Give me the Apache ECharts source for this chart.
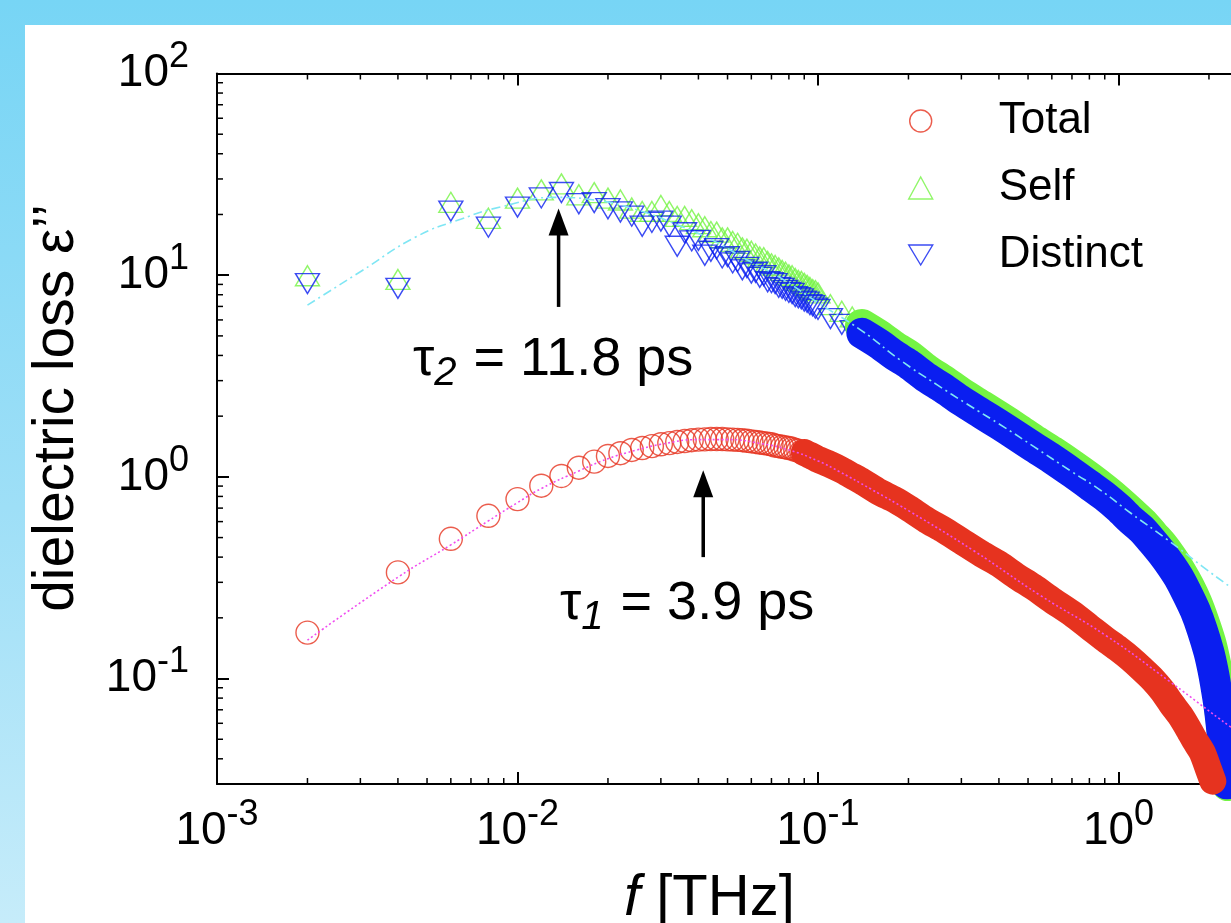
<!DOCTYPE html>
<html>
<head>
<meta charset="utf-8">
<title>dielectric loss</title>
<script src="https://cdn.jsdelivr.net/npm/echarts@6/dist/echarts.min.js"></script>
<style>
  html, body { margin: 0; padding: 0; }
  body {
    width: 1231px; height: 923px; overflow: hidden; position: relative;
    background: linear-gradient(to bottom, #77d5f5 0%, #9edff7 55%, #c6ecfa 100%);
  }
  #panel { position: absolute; left: 25px; top: 25px; right: 0; bottom: 0; background: #fff; }
  #chart { position: absolute; left: 0; top: 0; width: 1231px; height: 923px; }
</style>
</head>
<body>
<div id="panel"></div>
<div id="chart"></div>
<script>
// low frequency points, f = 0.002 ... 0.1 THz
var freqLow = [0.002, 0.004, 0.006, 0.008, 0.010, 0.012, 0.014, 0.016, 0.018, 0.020,
               0.022, 0.024, 0.026, 0.028, 0.030, 0.032, 0.034, 0.036, 0.038, 0.040,
               0.042, 0.044, 0.046, 0.048, 0.050, 0.052, 0.054, 0.056, 0.058, 0.060,
               0.062, 0.064, 0.066, 0.068, 0.070, 0.072, 0.074, 0.076, 0.078, 0.080,
               0.082, 0.084, 0.086, 0.088, 0.090, 0.092, 0.094, 0.096, 0.098, 0.100];
var totalLow = [0.169, 0.336, 0.493, 0.641, 0.776, 0.904, 1.01, 1.11, 1.19, 1.27,
                1.31, 1.36, 1.39, 1.42, 1.45, 1.47, 1.49, 1.505, 1.52, 1.53,
                1.535, 1.54, 1.54, 1.54, 1.535, 1.53, 1.525, 1.52, 1.51, 1.50,
                1.49, 1.48, 1.47, 1.46, 1.45, 1.43, 1.42, 1.41, 1.40, 1.39,
                1.38, 1.36, 1.35, 1.33, 1.32, 1.30, 1.28, 1.26, 1.24, 1.22];
var selfLow = [9.6, 9.2, 22.2, 18.5, 23.3, 25.6, 27.4, 24.2, 24.8, 23.3,
               22.8, 20.8, 20.0, 20.0, 21.4, 20.0, 18.9, 18.9, 18.2, 17.4,
               16.8, 15.9, 15.8, 14.8, 14.8, 14.2, 13.9, 13.2, 13.0, 12.7,
               12.3, 11.9, 11.8, 11.3, 11.0, 10.8, 10.5, 10.2, 10.0, 9.7,
               9.6, 9.3, 9.1, 9.0, 8.8, 8.6, 8.4, 8.2, 8.1, 7.9];
var distinctLow = [9.4, 8.9, 21.5, 17.9, 22.5, 25.0, 26.6, 23.4, 23.7, 22.1,
                   21.3, 20.3, 18.1, 18.9, 19.2, 18.1, 14.4, 16.8, 15.3, 15.4,
                   13.0, 13.6, 14.0, 12.6, 12.8, 11.9, 12.1, 11.0, 11.3, 10.6,
                   10.7, 10.1, 10.3, 9.6, 9.5, 9.4, 9.0, 8.9, 8.7, 8.5,
                   8.4, 8.1, 8.0, 7.9, 7.7, 7.6, 7.4, 7.3, 7.1, 7.0];

// high frequency part (markers merge into a band there)
var freqHigh = [0.11, 0.12, 0.13, 0.14, 0.16, 0.18, 0.20, 0.23, 0.26, 0.30,
                0.35, 0.40, 0.46, 0.52, 0.60, 0.70, 0.80, 0.90, 1.00, 1.10,
                1.20, 1.30, 1.40, 1.50, 1.60, 1.70, 1.80, 1.90, 2.00, 2.06,
                2.10, 2.16, 2.20, 2.24, 2.27, 2.29, 2.31];
var totalHigh = [1.15, 1.08, 1.01, 0.95, 0.84, 0.77, 0.70, 0.61, 0.55, 0.48,
                 0.415, 0.37, 0.32, 0.285, 0.245, 0.210, 0.180, 0.157, 0.140, 0.125,
                 0.111, 0.099, 0.087, 0.075, 0.066, 0.057, 0.049, 0.043, 0.035, 0.031,
                 null, null, null, null, null, null, null];
var selfHigh = [6.9, 6.4, 6.0, 5.6, 4.95, 4.35, 3.95, 3.35, 2.98, 2.56,
                2.22, 1.96, 1.71, 1.51, 1.32, 1.13, 0.98, 0.855, 0.75, 0.66,
                0.585, 0.51, 0.45, 0.39, 0.335, 0.285, 0.238, 0.192, 0.152, 0.127,
                0.11, 0.087, 0.07, 0.055, 0.044, 0.036, 0.030];
var distinctHigh = [6.3, 5.9, 5.5, 5.15, 4.55, 4.0, 3.63, 3.1, 2.76, 2.38,
                    2.06, 1.82, 1.59, 1.41, 1.23, 1.05, 0.91, 0.80, 0.70, 0.61,
                    0.545, 0.475, 0.415, 0.36, 0.31, 0.26, 0.217, 0.174, 0.135, 0.111,
                    0.095, 0.073, 0.058, 0.044, 0.035, 0.030, null];

// fit curves (cyan dash-dot: tau2, magenta dotted: tau1)
var fitSlowF = [0.002, 0.003, 0.0046, 0.0065, 0.0088, 0.0133, 0.018, 0.0245, 0.034, 0.045,
                0.057, 0.075, 0.1, 0.14, 0.1875, 0.25, 0.31, 0.42, 0.52, 0.7,
                0.87, 1.1, 1.45, 1.9, 2.35, 3.0];
var fitSlowEps = [7.1, 10.4, 15.5, 19.0, 21.8, 24.3, 23.6, 21.3, 17.8, 14.8,
                  12.1, 9.7, 7.3, 5.3, 3.8, 2.85, 2.32, 1.75, 1.42, 1.06,
                  0.86, 0.66, 0.49, 0.36, 0.285, 0.22];
var fitFastF = [0.002, 0.004, 0.006, 0.008, 0.010, 0.012, 0.016, 0.020, 0.025, 0.030,
                0.040, 0.050, 0.065, 0.080, 0.100, 0.118, 0.150, 0.200, 0.330, 0.550,
                0.910, 1.490, 2.370, 3.0];
var fitFastEps = [0.155, 0.318, 0.46, 0.605, 0.745, 0.875, 1.07, 1.23, 1.36, 1.45,
                  1.53, 1.53, 1.46, 1.36, 1.2, 1.06, 0.87, 0.68, 0.43, 0.258,
                  0.163, 0.096, 0.0573, 0.045];

var legendNames = ['Total', 'Self', 'Distinct'];

// arrows: frequency, tail and tip value
var arrowTau2 = [0.0137, 6.96, 21.4];
var arrowTau1 = [0.0415, 0.40, 1.077];

var FONT = '"Liberation Sans", Arial, Helvetica, sans-serif';
var RED = '#e6331f', GREEN = '#74f444', BLUE = '#0a1ef0';
var GRID = { left: 217, top: 73.5, width: 1202, height: 710.5 };
var DOWN_TRIANGLE = 'path://M0,0 L24,0 L12,20 Z';

function pairs(fs, vs) {
    var out = [];
    for (var i = 0; i < fs.length; i++) {
        if (vs[i] != null) out.push([fs[i], vs[i]]);
    }
    return out;
}

function powLabel(v) {
    var l = Math.log10(v), e = Math.round(l);
    if (Math.abs(l - e) > 1e-6) return '';
    return '{b|10}{s|' + e + '}';
}

var labelRich = {
    b: { fontSize: 46, fontFamily: FONT, color: '#000' },
    s: { fontSize: 36, fontFamily: FONT, color: '#000', padding: [0, 0, 32, 0] }
};

var totalPts = pairs(freqLow, totalLow).concat(pairs(freqHigh, totalHigh));
var selfPts = pairs(freqLow, selfLow).concat(pairs(freqHigh, selfHigh));
var distinctPts = pairs(freqLow, distinctLow).concat(pairs(freqHigh, distinctHigh));

function band(name, pts, from, color, width, clip) {
    return {
        name: name, type: 'line', silent: true, clip: clip,
        data: pts.filter(function (p) { return p[0] >= from; }),
        symbol: 'none', smooth: 0.25,
        lineStyle: { color: color, width: width, cap: 'round', join: 'round' }
    };
}

function markers(name, pts, symbol, size, offset, color) {
    return {
        name: name, type: 'scatter', data: pts,
        symbol: symbol, symbolSize: size, symbolOffset: offset,
        itemStyle: { color: 'rgba(0,0,0,0)', borderColor: color, borderWidth: 1.4 }
    };
}

var chart = echarts.init(document.getElementById('chart'));

var option = {
    animation: false,
    grid: Object.assign({ outerBoundsMode: 'none', containLabel: false }, GRID),
    legend: {
        data: legendNames, orient: 'vertical', left: 903, top: 94,
        itemWidth: 24, itemHeight: 22, itemGap: 23, selectedMode: false,
        itemStyle: { borderWidth: 1.4 },
        textStyle: { fontSize: 44, fontFamily: FONT, color: '#000', padding: [0, 0, 0, 61] }
    },
    xAxis: [{
        type: 'log', logBase: 10, min: 0.001, max: 10, position: 'bottom',
        axisLine: { lineStyle: { color: '#000', width: 2 } },
        axisTick: { inside: true, length: 12, lineStyle: { color: '#000', width: 2 } },
        axisLabel: { formatter: powLabel, rich: labelRich, margin: 13 },
        splitLine: { show: false }
    }, {
        type: 'log', logBase: 10, min: 0.001, max: 10, position: 'top',
        axisLine: { lineStyle: { color: '#000', width: 2 } },
        axisTick: { inside: true, length: 12, lineStyle: { color: '#000', width: 2 } },
        axisLabel: { show: false },
        splitLine: { show: false }
    }],
    yAxis: {
        type: 'log', logBase: 10, min: 0.03, max: 100,
        axisLine: { lineStyle: { color: '#000', width: 2 } },
        axisTick: { inside: true, length: 12, lineStyle: { color: '#000', width: 2 } },
        axisLabel: { formatter: powLabel, rich: labelRich, margin: 28 },
        splitLine: { show: false }
    },
    series: [
        band('Self band', selfPts, 0.14, GREEN, 34, true),
        markers('Self', selfPts, 'triangle', [24, 20], [0, -3], GREEN),
        band('Distinct band', distinctPts, 0.14, BLUE, 31, true),
        markers('Distinct', distinctPts, DOWN_TRIANGLE, [24, 20], [0, 3], BLUE),
        band('Total band', totalPts, 0.09, RED, 27, false),
        markers('Total', totalPts, 'circle', 23, [0, 0], RED),
        {
            name: 'fit tau2', type: 'line', silent: true, symbol: 'none', smooth: true,
            data: pairs(fitSlowF, fitSlowEps),
            lineStyle: { color: '#7fe6f4', width: 1.6, type: [9, 4, 2, 4] }
        },
        {
            name: 'fit tau1', type: 'line', silent: true, symbol: 'none', smooth: true,
            data: pairs(fitFastF, fitFastEps),
            lineStyle: { color: '#f04cf0', width: 1.6, type: [2, 2.5] }
        }
    ]
};

chart.setOption(option);

function arrowGraphics(a) {
    var tail = chart.convertToPixel({ xAxisIndex: 0, yAxisIndex: 0 }, [a[0], a[1]]);
    var tip = chart.convertToPixel({ xAxisIndex: 0, yAxisIndex: 0 }, [a[0], a[2]]);
    var headLen = 27, headW = 20;
    return [{
        type: 'line', silent: true,
        shape: { x1: tail[0], y1: tail[1], x2: tip[0], y2: tip[1] + headLen - 2 },
        style: { stroke: '#000', lineWidth: 3.5 }
    }, {
        type: 'polygon', silent: true,
        shape: { points: [[tip[0], tip[1]], [tip[0] - headW / 2, tip[1] + headLen], [tip[0] + headW / 2, tip[1] + headLen]] },
        style: { fill: '#000' }
    }];
}

function drawExtras() {
    var els = [];
    var bottom = GRID.top + GRID.height, top = GRID.top, left = GRID.left;

    // minor ticks, log spaced
    [0.001, 0.01, 0.1, 1].forEach(function (d) {
        for (var k = 2; k <= 9; k++) {
            var x = chart.convertToPixel({ xAxisIndex: 0 }, d * k);
            els.push({ type: 'line', silent: true, shape: { x1: x, y1: bottom, x2: x, y2: bottom - 6 }, style: { stroke: '#000', lineWidth: 1.5 } });
            els.push({ type: 'line', silent: true, shape: { x1: x, y1: top, x2: x, y2: top + 6 }, style: { stroke: '#000', lineWidth: 1.5 } });
        }
    });
    [0.01, 0.1, 1, 10].forEach(function (d) {
        for (var k = 2; k <= 9; k++) {
            var v = d * k;
            if (v < 0.035) continue;
            var y = chart.convertToPixel({ yAxisIndex: 0 }, v);
            els.push({ type: 'line', silent: true, shape: { x1: left, y1: y, x2: left + 6, y2: y }, style: { stroke: '#000', lineWidth: 1.5 } });
        }
    });

    els = els.concat(arrowGraphics(arrowTau2), arrowGraphics(arrowTau1));

    var textBase = { fontSize: 54, fontFamily: FONT, fill: '#000' };
    var subStyle = { fontSize: 40, fontFamily: FONT, fontStyle: 'italic', fill: '#000', padding: [28, 2, 0, 0] };
    els.push({
        type: 'text', silent: true, x: 413, y: 360,
        style: {
            text: '{t|τ}{s|2}{n| = 11.8 ps}', align: 'left', verticalAlign: 'middle',
            textAlign: 'left', textVerticalAlign: 'middle',
            rich: { t: textBase, s: subStyle, n: textBase }
        }
    });
    els.push({
        type: 'text', silent: true, x: 560, y: 604,
        style: {
            text: '{t|τ}{s|1}{n| = 3.9 ps}', align: 'left', verticalAlign: 'middle',
            textAlign: 'left', textVerticalAlign: 'middle',
            rich: { t: textBase, s: subStyle, n: textBase }
        }
    });
    // axis titles
    els.push({
        type: 'text', silent: true, x: 624, y: 899,
        style: {
            text: '{i|f}{n| [THz]}', align: 'left', verticalAlign: 'middle',
            textAlign: 'left', textVerticalAlign: 'middle',
            rich: {
                i: { fontSize: 58, fontFamily: FONT, fontStyle: 'italic', fill: '#000' },
                n: { fontSize: 58, fontFamily: FONT, fill: '#000' }
            }
        }
    });
    els.push({
        type: 'text', silent: true, x: 57, y: 408, rotation: Math.PI / 2,
        style: {
            text: 'dielectric loss ε’’', fontSize: 57, fontFamily: FONT, fill: '#000',
            align: 'center', verticalAlign: 'middle', textAlign: 'center', textVerticalAlign: 'middle'
        }
    });

    chart.setOption({ graphic: { elements: els } }, { replaceMerge: ['graphic'] });
}

drawExtras();

window.onresize = function () { chart.resize(); drawExtras(); };
</script>
</body>
</html>
